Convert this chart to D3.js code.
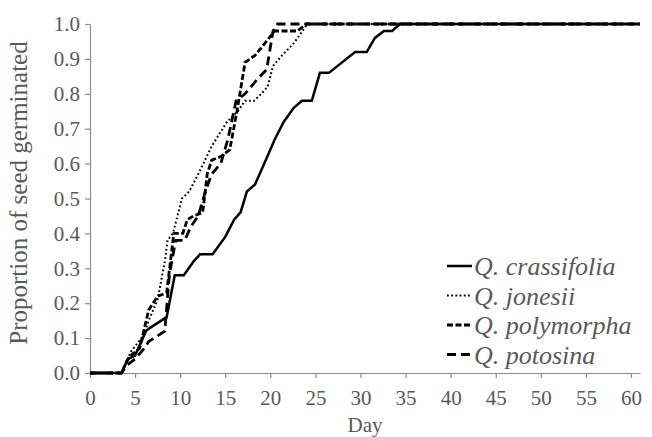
<!DOCTYPE html>
<html>
<head>
<meta charset="utf-8">
<script src="https://cdn.jsdelivr.net/npm/d3@7"></script>
<style>
  body { margin: 0; background: #fff; }
  text { font-family: "Liberation Serif", "Times New Roman", serif; fill: #595959; }
</style>
</head>
<body>
<svg id="chart" width="652" height="437"></svg>
<script>
// germination curves as [day, proportion]

var xTicks = d3.range(0, 61, 5);
var yTicks = d3.range(0, 11).map(d => d / 10);

var crassifolia = [[0,0],[3.5,0],[4.2,0.04],[5,0.05],[6.2,0.12],[6.7,0.13],[8.5,0.16],[9.4,0.28],[10.4,0.28],[11.5,0.32],[12.2,0.34],[13.6,0.34],[15,0.39],[16,0.44],[16.7,0.46],[17.4,0.52],[18.3,0.54],[19.5,0.61],[20.5,0.67],[21.5,0.72],[22.6,0.76],[23.5,0.78],[24.6,0.78],[25.5,0.86],[26.5,0.86],[29.4,0.92],[30.7,0.92],[31.6,0.96],[32.6,0.98],[33.5,0.98],[34.4,1],[61,1]];
var jonesii = [[0,0],[3.5,0],[4,0.03],[4.5,0.06],[6,0.11],[6.5,0.15],[7.5,0.21],[8.3,0.32],[8.6,0.38],[9.2,0.40],[10.2,0.50],[11,0.52],[12.2,0.58],[13.5,0.65],[15.2,0.72],[16.4,0.75],[17.2,0.78],[18.2,0.78],[19,0.80],[19.7,0.82],[20.3,0.88],[21.3,0.91],[22.6,0.945],[23.3,0.97],[24.1,1],[61,1]];
var polymorpha = [[0,0],[3.5,0],[4,0.03],[4.5,0.05],[5.5,0.07],[6.5,0.18],[7.5,0.22],[8.5,0.23],[9.3,0.40],[10.3,0.40],[10.8,0.44],[11.5,0.45],[12.5,0.46],[13,0.57],[13.5,0.61],[14.5,0.62],[15.5,0.64],[16.3,0.75],[17.2,0.89],[18.3,0.91],[20.5,0.98],[23,0.98],[24,1],[61,1]];
var potosina = [[0,0],[3.5,0],[4,0.02],[5,0.04],[6,0.07],[6.5,0.09],[8.3,0.12],[8.8,0.28],[9.5,0.38],[10.5,0.38],[11.2,0.42],[12,0.45],[12.8,0.52],[13.5,0.57],[14.5,0.60],[15.3,0.67],[16.2,0.78],[17.2,0.80],[18.5,0.84],[19.6,0.87],[20.3,0.98],[20.8,1],[61,1]];

var seriesNames = ["Q. crassifolia", "Q. jonesii", "Q. polymorpha", "Q. potosina"];
var seriesData = [crassifolia, jonesii, polymorpha, potosina];

// line styles per series
var dashes = [null, "1.8,2.4", "6,2.5", "9,5"];
var widths = [2.5, 2, 2.8, 2.8];

var svg = d3.select("#chart");

// SCALES
var x = d3.scaleLinear().domain([0, 61]).range([90, 640]);
var y = d3.scaleLinear().domain([0, 1]).range([373, 24]);

// AXES
svg.append("g")
    .attr("transform", "translate(0," + y(0) + ")")
    .call(d3.axisBottom(x).tickValues(xTicks).tickSize(5).tickSizeOuter(0).tickPadding(12));
svg.append("g")
    .attr("transform", "translate(" + x(0) + ",0)")
    .call(d3.axisLeft(y).tickValues(yTicks).tickFormat(d3.format(".1f")).tickSize(5).tickSizeOuter(0).tickPadding(5));

svg.selectAll(".domain, .tick line").attr("stroke", "#8c8c8c").attr("stroke-width", 1.2);
svg.selectAll(".tick text").style("font-size", "21px").attr("fill", "#595959");

// axis titles
svg.append("text")
    .attr("x", (x(0) + x(61)) / 2)
    .attr("y", 432)
    .attr("text-anchor", "middle")
    .style("font-size", "21px")
    .text("Day");
svg.append("text")
    .attr("transform", "translate(27,193) rotate(-90)")
    .attr("text-anchor", "middle")
    .style("font-size", "25px")
    .text("Proportion of seed germinated");

// LINES
var line = d3.line().x(d => x(d[0])).y(d => y(d[1]));

svg.append("g").selectAll("path")
    .data(seriesData)
    .enter()
    .append("path")
    .attr("d", line)
    .attr("fill", "none")
    .attr("stroke", "#000")
    .attr("stroke-width", (d, i) => widths[i])
    .attr("stroke-dasharray", (d, i) => dashes[i]);

// LEGEND
var legend = svg.append("g").selectAll("g")
    .data(seriesNames)
    .enter()
    .append("g")
    .attr("transform", (d, i) => "translate(447," + (266 + i * 29.5) + ")");

legend.append("line")
    .attr("x1", 0).attr("x2", 25)
    .attr("stroke", "#000")
    .attr("stroke-width", (d, i) => widths[i])
    .attr("stroke-dasharray", (d, i) => dashes[i]);

legend.append("text")
    .attr("x", 27)
    .attr("dy", "0.35em")
    .style("font-size", "26px")
    .style("font-style", "italic")
    .text(d => d);
</script>
</body>
</html>
